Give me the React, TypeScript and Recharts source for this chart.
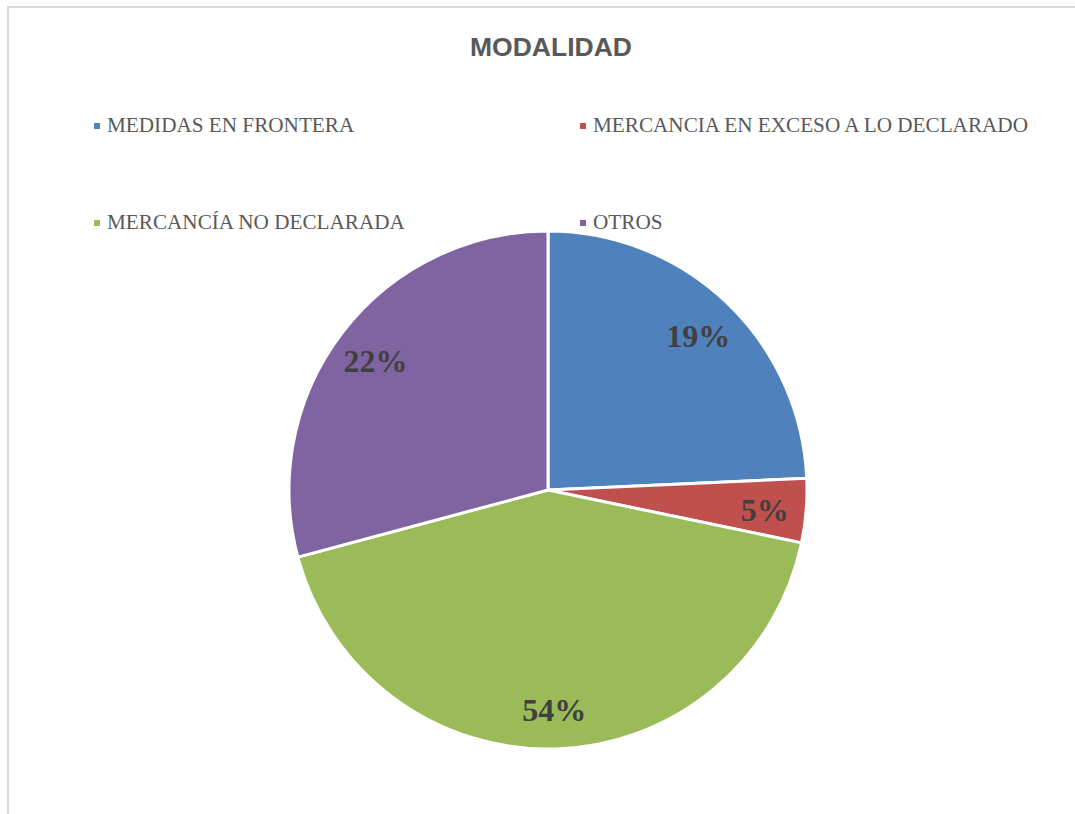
import React from 'react';
import { PieChart, Pie, Cell } from 'recharts';

const categories = [
  'MEDIDAS EN FRONTERA',
  'MERCANCIA EN EXCESO A LO DECLARADO',
  'MERCANCÍA NO DECLARADA',
  'OTROS',
];
// slice sizes as drawn in the picture
const values = [24.3, 4.0, 42.6, 29.2];
// label texts as printed on the slices
const labelTexts = ['19%', '5%', '54%', '22%'];
const colors = ['#4F81BD', '#C0504D', '#9BBB59', '#8064A2'];

const data = categories.map((name, i) => ({ name, value: values[i], label: labelTexts[i] }));

const RAD = Math.PI / 180;

const renderLabel = (props: any) => {
  const { cx, cy, midAngle, outerRadius, index } = props;
  const r = outerRadius * 0.84;
  const x = cx + r * Math.cos(-midAngle * RAD);
  const y = cy + r * Math.sin(-midAngle * RAD) + 3;
  return (
    <text
      x={x}
      y={y}
      textAnchor="middle"
      dominantBaseline="central"
      fill="#404040"
      style={{ fontFamily: '"Liberation Serif", "Times New Roman", serif', fontSize: 32, fontWeight: 'bold' }}
    >
      {labelTexts[index]}
    </text>
  );
};

const legendPos = [
  { left: 94, top: 115 },
  { left: 580, top: 115 },
  { left: 94, top: 212 },
  { left: 580, top: 212 },
];

const LegendBlock: React.FC = () => (
  <>
    {categories.map((name, i) => (
      <div
        key={name}
        style={{
          position: 'absolute',
          left: legendPos[i].left,
          top: legendPos[i].top,
          display: 'flex',
          alignItems: 'center',
          whiteSpace: 'nowrap',
        }}
      >
        <span style={{ width: 6, height: 6, background: colors[i], display: 'inline-block', marginRight: 7 }} />
        <span
          style={{
            fontFamily: '"Liberation Serif", "Times New Roman", serif',
            fontSize: 21.2,
            lineHeight: '21px',
            color: '#595959',
          }}
        >
          {name}
        </span>
      </div>
    ))}
  </>
);

const App: React.FC = () => {
  return (
    <div style={{ position: 'absolute', left: 0, top: 0, width: 1075, height: 814, overflow: 'hidden', background: '#fff' }}>
      <div
        style={{
          position: 'absolute',
          left: 7,
          top: 6,
          width: 1100,
          height: 860,
          border: '2px solid #d9d9d9',
          boxSizing: 'border-box',
        }}
      />
      <div
        style={{
          position: 'absolute',
          left: 0,
          top: 34,
          width: 1102,
          textAlign: 'center',
          fontFamily: '"Liberation Sans", Arial, sans-serif',
          fontWeight: 'bold',
          fontSize: 26.5,
          lineHeight: '26px',
          color: '#595959',
        }}
      >
        MODALIDAD
      </div>
      <div style={{ position: 'absolute', left: 0, top: 0 }}>
        <PieChart width={1075} height={814} margin={{ top: 0, right: 0, bottom: 0, left: 0 }}>
          <Pie
            data={data}
            dataKey="value"
            nameKey="name"
            cx={548}
            cy={490}
            outerRadius={259}
            startAngle={90}
            endAngle={-270}
            stroke="#ffffff"
            strokeWidth={3}
            label={renderLabel}
            labelLine={false}
            isAnimationActive={false}
          >
            {data.map((d, i) => (
              <Cell key={d.name} fill={colors[i]} />
            ))}
          </Pie>
        </PieChart>
      </div>
      <LegendBlock />
    </div>
  );
};

export default App;
